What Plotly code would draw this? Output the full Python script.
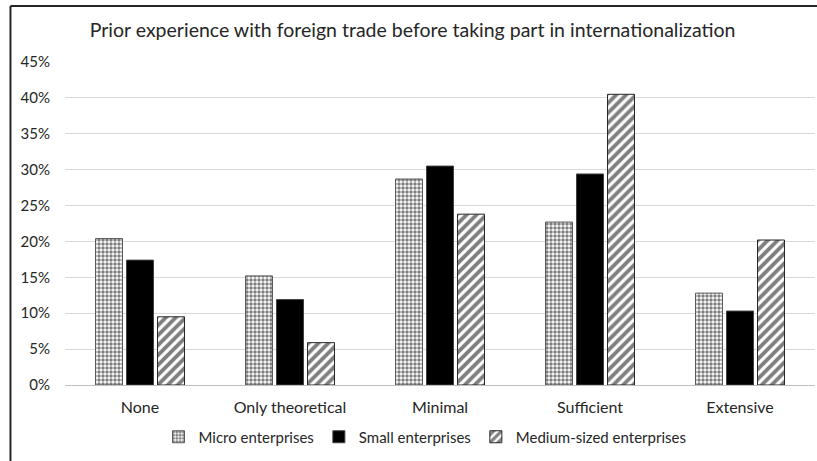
import plotly.graph_objects as go

categories = ["None", "Only theoretical", "Minimal", "Sufficient", "Extensive"]
micro = [0.204, 0.152, 0.287, 0.227, 0.128]
small = [0.174, 0.119, 0.305, 0.294, 0.103]
medium = [0.095, 0.059, 0.238, 0.405, 0.202]
yticks = [0, 0.05, 0.10, 0.15, 0.20, 0.25, 0.30, 0.35, 0.40, 0.45]
yticklabels = ["0%", "5%", "10%", "15%", "20%", "25%", "30%", "35%", "40%", "45%"]

FONT = "Lato"

fig = go.Figure()
fig.add_trace(go.Bar(
    x=categories, y=micro, name="Micro enterprises",
    marker=dict(color="white", line=dict(color="#595959", width=1),
                pattern=dict(shape=".", fgcolor="black", bgcolor="white", size=4, solidity=0.6)),
))
fig.add_trace(go.Bar(
    x=categories, y=small, name="Small enterprises",
    marker=dict(color="black", line=dict(color="#404040", width=1)),
))
fig.add_trace(go.Bar(
    x=categories, y=medium, name="Medium-sized enterprises",
    marker=dict(color="white", line=dict(color="#262626", width=1),
                pattern=dict(shape="/", fgcolor="black", bgcolor="white", size=7, solidity=0.55)),
))

# frame lines (top and left border of chart area)
fig.add_shape(type="line", xref="paper", yref="paper", x0=-0.0727, x1=1.05, y0=1.1734, y1=1.1734,
              line=dict(color="#262626", width=2))
fig.add_shape(type="line", xref="paper", yref="paper", x0=-0.0727, x1=-0.0727, y0=1.1734, y1=-0.3,
              line=dict(color="#262626", width=2))

fig.update_layout(
    width=817, height=461,
    margin=dict(l=65, r=2, t=62, b=76, autoexpand=False),
    paper_bgcolor="white", plot_bgcolor="white",
    font=dict(family=FONT, size=15, color="#262626"),
    title=dict(text="Prior experience with foreign trade before taking part in internationalization",
               x=0.505, xanchor="center", y=0.935, yanchor="middle",
               font=dict(family=FONT, size=19.5, color="#262626")),
    barmode="group", bargap=0.38, bargroupgap=0.13,
    showlegend=True,
    legend=dict(orientation="h", x=0.48, xanchor="center", y=-0.161, yanchor="middle",
                font=dict(family=FONT, size=15, color="#262626"),
                itemwidth=30, traceorder="normal", tracegroupgap=0),
    xaxis=dict(showline=True, linecolor="#bfbfbf", linewidth=1, ticks="",
               ticklabelstandoff=8, automargin=False,
               tickfont=dict(family=FONT, size=16, color="#262626")),
    yaxis=dict(range=[0, 0.45], tickvals=yticks, ticktext=yticklabels,
               showgrid=True, gridcolor="#d9d9d9", gridwidth=1, zeroline=False,
               ticks="", ticklabelstandoff=14, automargin=False,
               tickfont=dict(family=FONT, size=15, color="#262626")),
)

fig.write_html("out.html")
